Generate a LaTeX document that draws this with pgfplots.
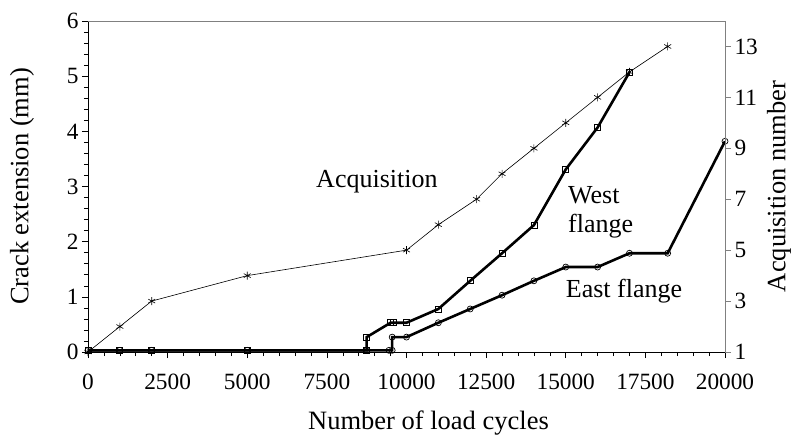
\documentclass[border=0pt]{standalone}
\usepackage{pgfplots}
\pgfplotsset{compat=1.18}
\usepackage{fontspec}
\setmainfont{Liberation Serif}
\begin{document}
\begin{tikzpicture}
\useasboundingbox (-88bp,-83bp) rectangle (703bp,352bp);
\begin{axis}[
 scale only axis, width=637bp, height=331bp,
 xmin=0, xmax=20000, ymin=0, ymax=6,
 axis x line*=bottom, axis y line*=left,
 xtick={0,2500,...,20000}, ytick={0,1,...,6},
 scaled x ticks=false,
 xticklabel style={/pgf/number format/fixed, /pgf/number format/precision=0, /pgf/number format/1000 sep={}, yshift=-12bp},
 minor x tick num=4, minor y tick num=4,
 tick align=outside, major tick length=6bp, minor tick length=4bp,
 tick style={black, line width=0.6bp},
 axis line style={black, line width=0.8bp, -},
 /pgf/number format/assume math mode=true,
 /pgf/number format/1000 sep={},
 tick label style={font=\fontsize{23.3bp}{28bp}\selectfont},
 xlabel={Number of load cycles}, ylabel={Crack extension (mm)},
 label style={font=\fontsize{26.5bp}{30bp}\selectfont},
 xlabel style={at={(axis description cs:0.5,0)}, anchor=base, yshift=-77bp, xshift=22bp},
 ylabel style={at={(axis description cs:-0.1036,0.5)}, anchor=center},
 clip=false,
]
\draw[gray, line width=0.8bp] (rel axis cs:0,1) -- (rel axis cs:1,1);
\addplot[black, line width=2.6bp, mark=o, mark size=3bp, mark options={solid, line width=0.7bp}] coordinates {
(0,0.03)(1000,0.03)(2000,0.03)(5000,0.03)(8750,0.03)(9450,0.03)(9550,0.03)(9550,0.27)(10000,0.27)(11000,0.53)(12000,0.78)(13000,1.03)(14000,1.29)(15000,1.54)(16000,1.54)(17000,1.79)(18200,1.79)(20000,3.82)};
\addplot[black, line width=2.6bp, mark=square, mark size=3bp, mark options={solid, line width=0.7bp}] coordinates {
(0,0.03)(1000,0.03)(2000,0.03)(5000,0.03)(8750,0.03)(8750,0.27)(9500,0.53)(9600,0.53)(10000,0.53)(11000,0.78)(12000,1.29)(13000,1.79)(14000,2.30)(15000,3.31)(16000,4.07)(17000,5.07)};
\node[anchor=base west, font=\fontsize{26bp}{30bp}\selectfont, inner sep=0] at (rel axis cs:0.358,0.4955) {Acquisition};
\node[anchor=base west, font=\fontsize{26bp}{30bp}\selectfont, inner sep=0] at (rel axis cs:0.7535,0.450) {West};
\node[anchor=base west, font=\fontsize{26bp}{30bp}\selectfont, inner sep=0] at (rel axis cs:0.7535,0.3625) {flange};
\node[anchor=base west, font=\fontsize{26bp}{30bp}\selectfont, inner sep=0] at (rel axis cs:0.750,0.166) {East flange};
\end{axis}
\begin{axis}[
 scale only axis, width=637bp, height=331bp,
 xmin=0, xmax=20000, ymin=1, ymax=14,
 axis x line=none, axis y line*=right,
 ytick={1,3,...,13},
 tick align=outside, major tick length=6bp,
 tick style={gray, line width=0.6bp},
 axis line style={gray, line width=0.8bp, -},
 /pgf/number format/assume math mode=true,
 tick label style={font=\fontsize{23.3bp}{28bp}\selectfont},
 ylabel={Acquisition number},
 label style={font=\fontsize{26.5bp}{30bp}\selectfont},
 ylabel style={at={(axis description cs:1.0848,0.5)}, anchor=center, rotate=0},
 clip=false,
]
\addplot[black, line width=0.6bp, mark=asterisk, mark size=4bp, mark options={solid, line width=0.6bp}] coordinates {
(0,1)(1000,2)(2000,3)(5000,4)(10000,5)(11000,6)(12200,7)(13000,8)(14000,9)(15000,10)(16000,11)(17000,12)(18200,13)};
\end{axis}
\end{tikzpicture}
\end{document}
